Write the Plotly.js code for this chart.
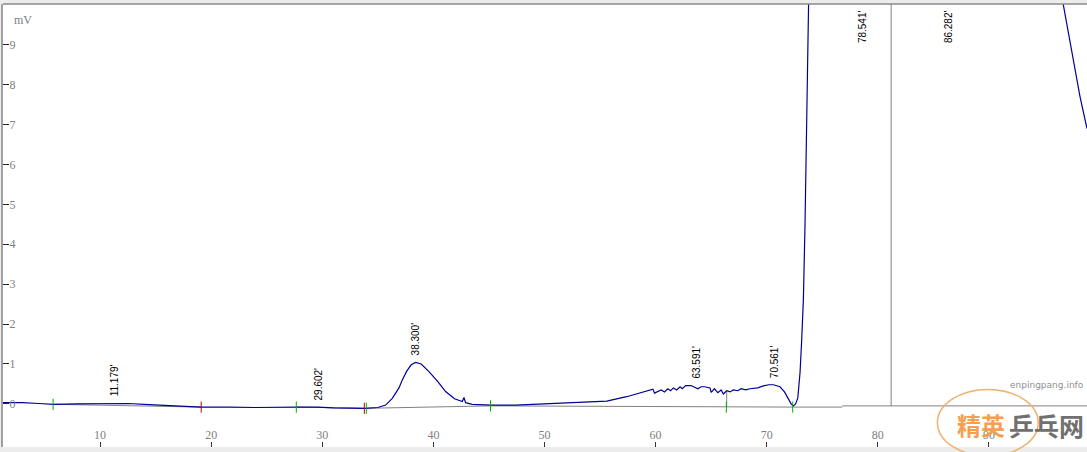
<!DOCTYPE html>
<html>
<head>
<meta charset="utf-8">
<script src="https://cdn.plot.ly/plotly-3.0.1.min.js"></script>
<style>html,body{margin:0;padding:0;background:#fff;}#chart{width:1087px;height:452px;}</style>
</head>
<body>
<div id="chart"></div>
<script>
// Signal (minutes, mV)
const signalTime = [1.26,3.0,4.5,5.8,8.0,10.0,11.2,12.5,14.4,16.5,18.9,19.1,21.6,24.0,27.7,29.6,31.0,32.5,33.8,35.0,35.7,36.3,36.9,37.2,37.6,38.0,38.4,38.9,39.6,40.4,41.1,41.9,42.6,42.75,42.9,43.5,45.2,47.4,50.4,53.4,55.6,57.4,58.9,59.76,59.9,60.2,60.5,60.8,61.1,61.35,61.6,61.9,62.2,62.4,62.7,63.2,63.4,63.8,64.1,64.4,64.9,65.0,65.3,65.6,65.9,66.1,66.4,66.7,67.0,67.4,67.7,68.1,68.5,69.2,69.7,70.2,70.6,71.2,71.6,71.9,72.2,72.4,72.6,72.8,73.0,73.15,73.3,73.45,73.6,73.7,74.0,75.0,78.5,81.0,86.3,92.0,96.0,96.7,97.5,98.2,98.83];
const signalMv   = [0.03,0.03,0.01,-0.01,0.0,0.01,0.02,0.01,-0.02,-0.05,-0.07,-0.08,-0.08,-0.09,-0.08,-0.08,-0.10,-0.11,-0.11,-0.09,-0.03,0.14,0.40,0.60,0.82,0.98,1.04,1.00,0.81,0.56,0.31,0.13,0.06,0.16,0.03,-0.01,-0.03,-0.03,0.0,0.03,0.07,0.18,0.30,0.37,0.27,0.30,0.35,0.30,0.38,0.33,0.40,0.35,0.43,0.38,0.46,0.46,0.43,0.38,0.43,0.43,0.40,0.29,0.38,0.28,0.35,0.25,0.33,0.30,0.35,0.33,0.38,0.35,0.38,0.40,0.45,0.48,0.48,0.43,0.30,0.15,0.0,-0.05,0.0,0.15,0.78,1.6,2.6,4.5,7.2,10.0,14.0,20.0,30.0,25.0,30.0,20.0,11.0,10.0,8.8,7.7,6.9];

// Integration baseline segments (null separates segments)
const baseTime = [5.8,19.1,null,27.7,33.8,null,33.96,45.2,null,45.2,72.4,null,72.4,76.8,null,76.8,98.83,null,66.4,66.4,null,81.2,81.2];
const baseMv   = [-0.01,-0.08,null,-0.08,-0.11,null,-0.11,-0.05,null,-0.05,-0.08,null,-0.08,-0.08,null,-0.05,-0.05,null,-0.08,0.31,null,-0.05,10.5];

// Integration event markers
const greenMarkTime = [5.77,27.66,33.96,45.14,66.37,72.34];
const greenMarkMv   = [-0.01,-0.08,-0.11,-0.05,-0.08,-0.08];
const redMarkTime   = [19.1,33.78];
const redMarkMv     = [-0.08,-0.11];

// Peak labels
const peakTimes   = [11.179,29.602,38.300,63.591,70.561,78.541,86.282];
const peakHeights = [0.02,-0.08,1.04,0.46,0.48,null,null]; // null = off scale
const peakLabels  = ["11.179'","29.602'","38.300'","63.591'","70.561'","78.541'","86.282'"];

const xTicks = [10,20,30,40,50,60,70,80,90];
const yTicks = [-1,0,1,2,3,4,5,6,7,8,9];

const X_RANGE = [1.26, 98.83];
const Y_RANGE = [-1.08, 10.02];

const traces = [
  {x: baseTime, y: baseMv, mode: 'lines', line: {color: '#808080', width: 1}, hoverinfo: 'skip', connectgaps: false},
  {x: signalTime, y: signalMv, mode: 'lines', line: {color: '#000096', width: 1.2}},
  {x: greenMarkTime, y: greenMarkMv, mode: 'markers', marker: {symbol: 'line-ns', size: 8, line: {color: '#00b000', width: 1}}},
  {x: redMarkTime, y: redMarkMv, mode: 'markers', marker: {symbol: 'line-ns', size: 8, line: {color: '#c00000', width: 1}}}
];

const annotations = peakTimes.map((t, i) => {
  const on = peakHeights[i] !== null;
  return {
    x: t, y: on ? peakHeights[i] : Y_RANGE[1], xref: 'x', yref: 'y',
    text: peakLabels[i], showarrow: false, textangle: -90,
    xanchor: 'center', yanchor: on ? 'bottom' : 'top',
    yshift: on ? 5 : -4, xshift: 1,
    font: {family: 'Liberation Sans, Arial, sans-serif', size: 10, color: '#000'}
  };
});
annotations.push({xref: 'paper', yref: 'paper', x: 0.008, y: 0.985, xanchor: 'left', yanchor: 'top', showarrow: false,
  text: 'mV', font: {family: 'Liberation Serif, Times New Roman, serif', size: 12, color: '#808080'}});
annotations.push({xref: 'paper', yref: 'paper', x: 0.999, y: 0.14, xanchor: 'right', yanchor: 'middle', showarrow: false,
  text: 'enpingpang.info', font: {family: 'DejaVu Sans, sans-serif', size: 9, color: '#909090'}});
annotations.push({xref: 'paper', yref: 'paper', x: 0.926, y: 0.05, xanchor: 'right', yanchor: 'middle', showarrow: false,
  text: '<b>精英</b>', font: {family: 'Noto Sans CJK SC, sans-serif', size: 24, color: '#f5a050'}});
annotations.push({xref: 'paper', yref: 'paper', x: 0.999, y: 0.05, xanchor: 'right', yanchor: 'middle', showarrow: false,
  text: '<b>乒乓网</b>', font: {family: 'Noto Sans CJK SC, sans-serif', size: 25, color: '#707070'}});

const layout = {
  width: 1087, height: 452,
  margin: {l: 3, r: 0, t: 4, b: 5, pad: 0},
  paper_bgcolor: '#ececec', plot_bgcolor: '#ffffff',
  showlegend: false,
  xaxis: {range: X_RANGE, tickvals: xTicks, ticktext: xTicks.map(String), ticks: 'inside', ticklen: 5, tickcolor: '#333',
          ticklabelposition: 'inside', showgrid: false, zeroline: false, showline: false,
          tickfont: {family: 'Liberation Serif, Times New Roman, serif', size: 12, color: '#808080'}},
  yaxis: {range: Y_RANGE, tickvals: yTicks, ticktext: yTicks.map(String), ticks: 'inside', ticklen: 6, tickcolor: '#222',
          ticklabelposition: 'inside', showgrid: false, zeroline: false, showline: true, linecolor: '#a0a0a0', linewidth: 2,
          tickfont: {family: 'Liberation Serif, Times New Roman, serif', size: 12, color: '#808080'}},
  shapes: [
    {type: 'line', xref: 'paper', yref: 'paper', x0: 0, x1: 1, y0: 1, y1: 1, line: {color: '#8a8a8a', width: 1.5}},
    {type: 'circle', xref: 'paper', yref: 'paper', x0: 0.862, x1: 0.955, y0: -0.02, y1: 0.13, line: {color: '#f0b070', width: 1.5}}
  ],
  annotations: annotations
};

Plotly.newPlot('chart', traces, layout, {staticPlot: true, displayModeBar: false});
</script>
</body>
</html>
